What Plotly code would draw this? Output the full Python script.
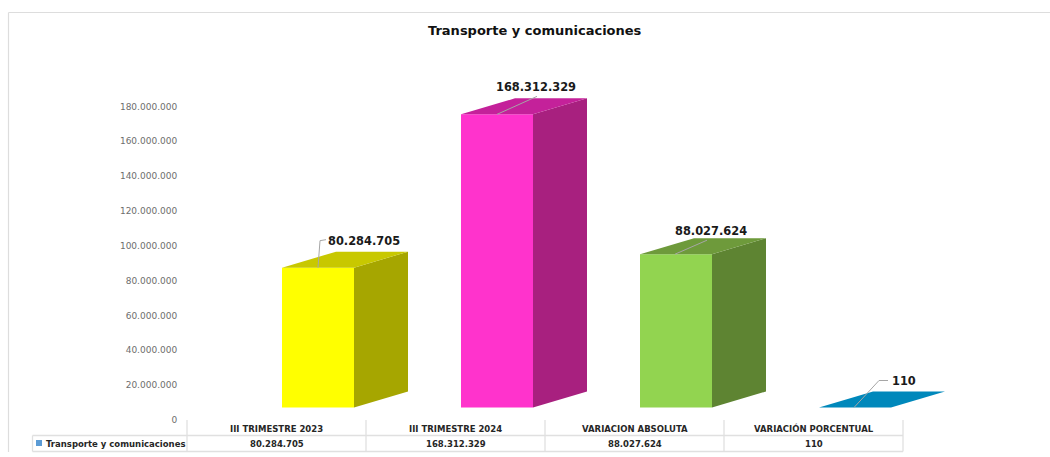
import plotly.graph_objects as go

title = "Transporte y comunicaciones"
categories = ["III TRIMESTRE 2023", "III TRIMESTRE 2024", "VARIACION ABSOLUTA", "VARIACIÓN PORCENTUAL"]
values = [80284705, 168312329, 88027624, 110]
value_labels = ["80.284.705", "168.312.329", "88.027.624", "110"]
front_colors = ["#FFFF00", "#FF33CC", "#92D450", "#0088BB"]
side_colors = ["#A6A600", "#A8207F", "#5E8432", "#006688"]
top_colors = ["#C8C800", "#C4219A", "#6E9A3B", "#0088BB"]
y_ticks = list(range(0, 180000001, 20000000))

W, H = 1050, 457
H_EFF = 452.0              # vertical calibration against the returned picture
X0, X1 = 187.0, 903.0      # table extent, px
XP = 1000.0                # plot area runs past the table so the last bar's depth is not clipped
Y0, YT = 420.0, 70.0       # value axis extent, px
PX_PER_UNIT = 313.5 / 180e6
PX_PER_CAT = (X1 - X0) / 4

def dy(px):
    return px / PX_PER_UNIT

def dx(px):
    return px / PX_PER_CAT

BASE = dy(12.5)            # front face floats above the axis zero
DEPTH_Y = dy(16)
DEPTH_X = dx(54)
BAR_W = dx(72)
SHIFT = dx(41.5)

# leader line / label offsets relative to each bar's front-top-left corner: px
leaders = [
    [(36, 0), (38, 27), (44, 28)],
    [(36, 0), (76, 18)],
    [(35, 0), (67, 14)],
    [(35, 0), (60, 27), (69, 27)],
]
label_off = [(82, 26.5), (75, 27.5), (71, 23.5), (85, 26.5)]

fig = go.Figure()

for i, v in enumerate(values):
    left = i + SHIFT - BAR_W / 2
    right = left + BAR_W
    bottom = BASE
    top = BASE + v
    if v > 1000:
        fig.add_trace(go.Scatter(
            x=[right, right + DEPTH_X, right + DEPTH_X, right, right],
            y=[bottom, bottom + DEPTH_Y, top + DEPTH_Y, top, bottom],
            mode="lines", fill="toself", fillcolor=side_colors[i],
            line=dict(width=0), hoverinfo="skip", showlegend=False))
    fig.add_trace(go.Scatter(
        x=[left, right, right + DEPTH_X, left + DEPTH_X, left],
        y=[top, top, top + DEPTH_Y, top + DEPTH_Y, top],
        mode="lines", fill="toself", fillcolor=top_colors[i],
        line=dict(width=0), hoverinfo="skip", showlegend=False))

fig.add_trace(go.Bar(
    x=[i + SHIFT for i in range(4)], y=values, base=[BASE] * 4, width=BAR_W,
    marker=dict(color=front_colors, line=dict(width=0)),
    showlegend=False, name=title))

for i, v in enumerate(values):
    left = i + SHIFT - BAR_W / 2
    top = BASE + v
    fig.add_trace(go.Scatter(
        x=[left + dx(p[0]) for p in leaders[i]],
        y=[top + dy(p[1]) for p in leaders[i]],
        mode="lines", line=dict(color="#A6A6A6", width=1),
        hoverinfo="skip", showlegend=False))
    fig.add_annotation(
        x=left + dx(label_off[i][0]), y=top + dy(label_off[i][1]),
        text=f"<b>{value_labels[i]}</b>", showarrow=False,
        font=dict(family="DejaVu Sans", size=11.4, color="#1A1A1A"),
        xref="x", yref="y", xanchor="center", yanchor="middle")

def py(p):
    return 1 - p / H_EFF

def px(p):
    return p / W

shapes = []
LINE = dict(color="#E0E0E0", width=1.3)
shapes.append(dict(type="line", xref="paper", yref="paper", x0=px(8.5), x1=1, y0=py(12.5), y1=py(12.5),
                   line=dict(color="#DDDDDD", width=1.2)))
shapes.append(dict(type="line", xref="paper", yref="paper", x0=px(8.5), x1=px(8.5), y0=py(12.5), y1=0,
                   line=dict(color="#DDDDDD", width=1.2)))
for i in range(5):
    xp = px(X0 + i * PX_PER_CAT)
    shapes.append(dict(type="line", xref="paper", yref="paper", x0=xp, x1=xp, y0=py(420), y1=py(451.5), line=LINE))
for yp in (435.5, 451.5):
    shapes.append(dict(type="line", xref="paper", yref="paper", x0=px(32.5), x1=px(X1), y0=py(yp), y1=py(yp), line=LINE))
shapes.append(dict(type="line", xref="paper", yref="paper", x0=px(32.5), x1=px(32.5), y0=py(435.5), y1=py(451.5), line=LINE))
shapes.append(dict(type="rect", xref="paper", yref="paper", x0=px(36), x1=px(42), y0=py(446), y1=py(440),
                   fillcolor="#5B9BD5", line=dict(width=0)))
fig.update_layout(shapes=shapes)

TABLE_FONT = dict(family="DejaVu Sans", size=8.5, color="#262626")
for i, c in enumerate(categories):
    fig.add_annotation(x=i, y=py(428.7), xref="x", yref="paper", text=f"<b>{c}</b>", showarrow=False,
                       font=TABLE_FONT, xanchor="center", yanchor="middle")
    fig.add_annotation(x=i, y=py(443.5), xref="x", yref="paper", text=f"<b>{value_labels[i]}</b>", showarrow=False,
                       font=TABLE_FONT, xanchor="center", yanchor="middle")
fig.add_annotation(x=px(43.5), y=py(443.5), xref="paper", yref="paper", text=f"<b>{title}</b>", showarrow=False,
                   font=TABLE_FONT, xanchor="left", yanchor="middle")
fig.add_annotation(x=px(535), y=py(30.2), xref="paper", yref="paper", text=f"<b>{title}</b>", showarrow=False,
                   font=dict(family="DejaVu Sans", size=13, color="#111111"), xanchor="center", yanchor="middle")

fig.update_layout(
    width=W, height=H, autosize=False,
    margin=dict(l=0, r=0, t=0, b=0),
    paper_bgcolor="white", plot_bgcolor="white",
    xaxis=dict(domain=[px(X0), px(XP)], range=[-0.5, -0.5 + (XP - X0) / PX_PER_CAT], showgrid=False, zeroline=False,
               showline=False, showticklabels=False, ticks="", fixedrange=True),
    yaxis=dict(domain=[py(Y0), py(YT)], range=[0, (Y0 - YT) / PX_PER_UNIT], showgrid=False, zeroline=False,
               showline=False, tickvals=y_ticks, ticktext=[f"{t:,}".replace(",", ".") for t in y_ticks],
               ticks="outside", ticklen=7, tickcolor="rgba(0,0,0,0)",
               tickfont=dict(family="DejaVu Sans", size=9, color="#6E6E6E"), fixedrange=True),
)

fig.write_html("out.html", config={"displayModeBar": False},
               post_script="document.body.style.margin='0';")
